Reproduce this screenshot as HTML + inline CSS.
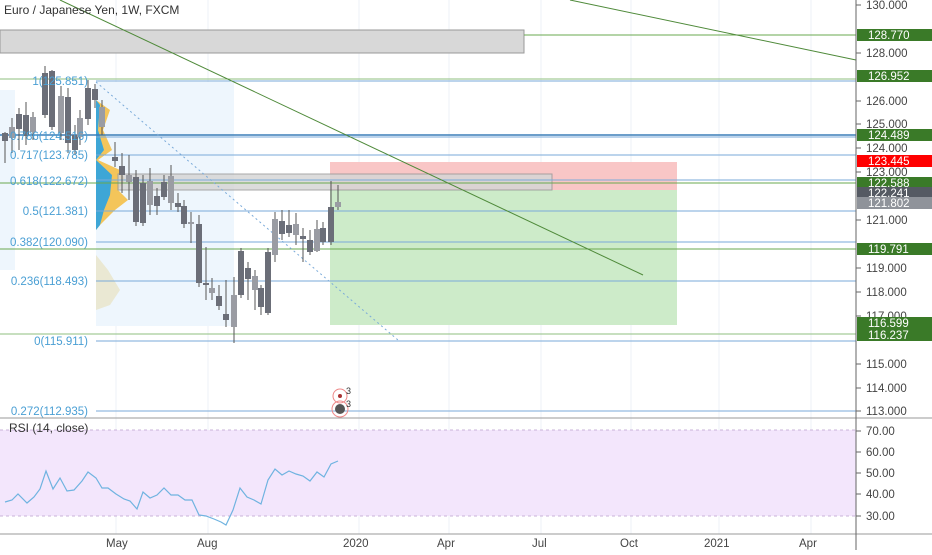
<!DOCTYPE html>
<html><head><meta charset="utf-8"><style>
body{margin:0;background:#fff;width:932px;height:550px;overflow:hidden;font-family:"Liberation Sans",sans-serif}
svg text{font-family:"Liberation Sans",sans-serif}
</style></head><body>
<svg width="932" height="550" xmlns="http://www.w3.org/2000/svg">
<g stroke="#eef2f7" stroke-width="1">
<line x1="116" y1="0" x2="116" y2="534"/><line x1="208" y1="0" x2="208" y2="534"/><line x1="359" y1="0" x2="359" y2="534"/>
<line x1="449" y1="0" x2="449" y2="534"/><line x1="541" y1="0" x2="541" y2="534"/><line x1="631" y1="0" x2="631" y2="534"/><line x1="719" y1="0" x2="719" y2="534"/><line x1="811" y1="0" x2="811" y2="534"/>
</g>
<rect x="0" y="90" width="15" height="180" fill="#eef6fd"/>
<rect x="96" y="82" width="138" height="244" fill="#eef6fd"/>
<path d="M96,100 L110,110 L103,130 L112,150 L98,160 L120,170 L125,180 L118,190 L128,200 L115,210 L100,225 L96,230 Z" fill="#f4c55a"/>
<path d="M96,100 L100,105 L98,130 L104,150 L96,160 L112,175 L110,195 L104,210 L100,225 L96,230 Z" fill="#3ea6d6"/>
<path d="M96,255 L108,270 L120,290 L110,305 L96,310 Z" fill="#e9e5c8" opacity=".8"/>
<rect x="0" y="30" width="524" height="23" fill="#d8d8d8" stroke="#999"/>
<rect x="330" y="162" width="347" height="28" fill="#f9c6c6"/>
<rect x="330" y="190" width="347" height="135" fill="#cdebc9"/>
<rect x="118" y="174" width="434" height="16" fill="#d6d6d6" opacity=".85" stroke="#999"/>
<g stroke-width="1">
<line x1="524" y1="35" x2="856" y2="35" stroke="#6aa84f"/>
<line x1="0" y1="79" x2="856" y2="79" stroke="#8fbf7f"/>
<line x1="96" y1="81" x2="856" y2="81" stroke="#7aaad9"/>
<line x1="0" y1="135" x2="856" y2="135" stroke="#3b7fb8" stroke-width="1.5"/>
<line x1="96" y1="137" x2="856" y2="137" stroke="#7aaad9"/>
<line x1="96" y1="155" x2="856" y2="155" stroke="#7aaad9"/>
<line x1="96" y1="180" x2="856" y2="180" stroke="#7aaad9"/>
<line x1="0" y1="183" x2="856" y2="183" stroke="#6aa84f"/>
<line x1="96" y1="211" x2="856" y2="211" stroke="#7aaad9"/>
<line x1="96" y1="242" x2="856" y2="242" stroke="#7aaad9"/>
<line x1="0" y1="249" x2="856" y2="249" stroke="#6aa84f"/>
<line x1="96" y1="281" x2="856" y2="281" stroke="#7aaad9"/>
<line x1="0" y1="334" x2="856" y2="334" stroke="#8fbf7f"/>
<line x1="96" y1="341" x2="856" y2="341" stroke="#7aaad9"/>
<line x1="96" y1="411" x2="856" y2="411" stroke="#7aaad9"/>
</g>
<line x1="96" y1="82" x2="398" y2="340" stroke="#7aaad9" stroke-dasharray="2,3"/>
<line x1="60" y1="0" x2="643" y2="275" stroke="#4f8a3a"/>
<line x1="570" y1="0" x2="856" y2="60" stroke="#4f8a3a"/>
<g id="c"></g>
<g font-size="11.5" fill="#4a9fd4" text-anchor="end">
<text x="88" y="85">1(125.851)</text>
<text x="88" y="140">0.786(124.516)</text>
<text x="88" y="159">0.717(123.785)</text>
<text x="88" y="185">0.618(122.672)</text>
<text x="88" y="215">0.5(121.381)</text>
<text x="88" y="246">0.382(120.090)</text>
<text x="88" y="285">0.236(118.493)</text>
<text x="88" y="345">0(115.911)</text>
<text x="88" y="415">0.272(112.935)</text>
</g>
<circle cx="340" cy="396" r="7" fill="none" stroke="#e88"/><circle cx="340" cy="396" r="2" fill="#a33"/>
<circle cx="340" cy="409" r="8" fill="none" stroke="#e88"/><circle cx="340" cy="409" r="5" fill="#555"/>
<text x="346" y="394" font-size="9" fill="#333">3</text><text x="346" y="407" font-size="9" fill="#333">3</text>
<text x="4" y="14" font-size="12" fill="#333">Euro / Japanese Yen, 1W, FXCM</text>
<line x1="0" y1="418" x2="932" y2="418" stroke="#999"/>
<rect x="0" y="430" width="856" height="86" fill="#f3e6fc"/>
<line x1="0" y1="430" x2="856" y2="430" stroke="#c9b3d9" stroke-dasharray="3,3"/>
<line x1="0" y1="516" x2="856" y2="516" stroke="#c9b3d9" stroke-dasharray="3,3"/>
<text x="9" y="432" font-size="12" fill="#333">RSI (14, close)</text>
<polyline fill="none" stroke="#6fb3e0" stroke-width="1.2" points="5,502 12,500 18,494 27,503 34,497 40,489 46,471 53,489 60,478 67,491 74,490 82,481 88,472 96,478 102,488 108,488 116,494 124,499 130,501 137,509 143,492 150,498 157,495 164,488 171,495 178,495 185,500 192,500 199,515 206,516 214,519 221,522 226,525 233,510 240,488 247,497 254,500 261,504 268,480 275,469 282,475 289,471 296,474 303,476 310,481 317,472 324,477 331,464 338,461"/>
<line x1="0" y1="534" x2="932" y2="534" stroke="#999"/>
<line x1="856" y1="0" x2="856" y2="550" stroke="#666"/>
<g font-size="11.5" fill="#444">
<text x="106" y="547">May</text><text x="197" y="547">Aug</text><text x="343" y="547">2020</text><text x="437" y="547">Apr</text>
<text x="532" y="547">Jul</text><text x="620" y="547">Oct</text><text x="704" y="547">2021</text><text x="799" y="547">Apr</text>
</g>
<g font-size="11.5" fill="#444" id="ax"></g>
</svg>
<script>
var NS="http://www.w3.org/2000/svg";
function el(t,a,p){var e=document.createElementNS(NS,t);for(var k in a)e.setAttribute(k,a[k]);(p||document.querySelector('svg')).appendChild(e);return e}
var c=document.getElementById('c');
var C=[[5,132,163,133,141],[12,118,153,127,138],[19,108,150,114,129],[26,102,145,115,136],[33,112,140,117,132],[45,66,118,73,115],[52,70,130,71,127],[61,86,140,96,133],[68,88,153,97,143],[75,125,155,135,150],[80,110,145,118,137],[88,80,125,88,119],[95,84,108,89,100],[102,100,135,107,127],[115,142,167,157,161],[122,153,193,166,175],[129,155,200,175,182],[136,170,226,177,222],[143,175,226,183,223],[150,168,215,181,205],[157,188,215,196,206],[164,175,200,182,197],[171,165,210,176,203],[178,193,212,203,207],[184,200,228,206,224],[191,212,243,222,224],[199,215,287,224,283],[206,247,300,283,285],[212,278,300,288,293],[219,285,310,296,306],[226,280,327,314,320],[234,277,343,295,327],[241,248,298,251,295],[248,262,300,268,279],[255,270,310,276,290],[261,285,315,288,307],[268,248,315,252,313],[275,212,262,219,255],[282,210,240,221,234],[289,210,237,225,233],[296,213,245,224,235],[303,228,262,236,239],[310,230,255,240,252],[317,220,252,229,251],[323,222,245,228,242],[331,181,245,207,242],[338,185,210,202,207]];
C.forEach(function(d,i){var col=i%3==1?'#9a9ca3':'#6b6e78';
el('line',{x1:d[0],y1:d[1],x2:d[0],y2:d[2],stroke:'#555','stroke-width':1},c);
el('rect',{x:d[0]-3,y:d[3],width:6,height:Math.max(1,d[4]-d[3]),fill:col},c);});
var ax=document.getElementById('ax');
[[130,5],[128,53],[126,101],[125,124],[124,148],[123,172],[121,220],[119,268],[118,292],[117,316],[115,364],[114,388],[113,411],[70,431],[60,452],[50,473],[40,494],[30,516]].forEach(function(a){
el('line',{x1:856,y1:a[1],x2:861,y2:a[1],stroke:'#666'},ax);
var t=el('text',{x:866,y:a[1]+4},ax);t.textContent=a[0]>=100?a[0].toFixed(3):a[0].toFixed(2);});
[[128.770,35,'#3a7a28'],[126.952,76,'#3a7a28'],[124.489,135,'#3a7a28'],[123.445,161,'#f00'],[122.588,183,'#3a7a28'],[122.241,193,'#555a63'],[121.802,203,'#8f939a'],[119.791,249,'#3a7a28'],[116.599,323,'#3a7a28'],[116.237,335,'#3a7a28']].forEach(function(a){
el('rect',{x:857,y:a[1]-6,width:75,height:12,fill:a[2]});
var t=el('text',{x:868,y:a[1]+4,'font-size':11.5,fill:'#fff'});t.textContent=a[0].toFixed(3);});
</script>
</body></html>
